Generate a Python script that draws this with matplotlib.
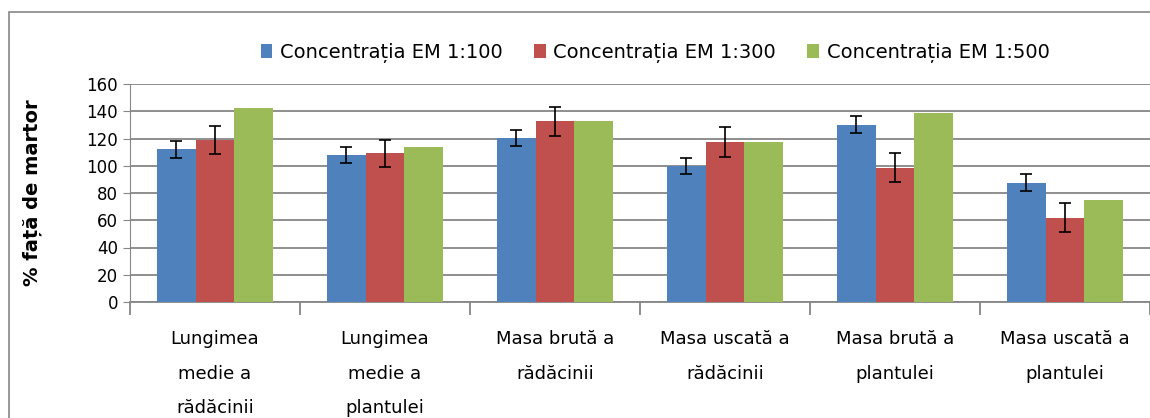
import matplotlib
import matplotlib.pyplot as plt
import numpy as np

matplotlib.use("Agg")

categories = ["Lungimea\nmedie a\nrădăcinii", "Lungimea\nmedie a\nplantulei",
              "Masa brută a\nrădăcinii", "Masa uscată a\nrădăcinii",
              "Masa brută a\nplantulei", "Masa uscată a\nplantulei"]
series_names = ["Concentrația EM 1:100", "Concentrația EM 1:300", "Concentrația EM 1:500"]
em100 = [112, 108, 120.5, 100, 130, 87.5]
em300 = [119, 109, 132.5, 117.5, 98.5, 62]
em500 = [142.5, 114, 132.5, 117.5, 138.5, 75]
err100 = [6.3, 6, 5.7, 6, 6.3, 6.2]
err300 = [10.5, 10, 10.5, 11, 10.6, 10.5]
colors = ["#4F81BD", "#C0504D", "#9BBB59"]

plt.rcParams["font.family"] = ["DejaVu Sans"]

fig = plt.figure(figsize=(11.5, 4.18), dpi=100)
# outer chart frame
fig.patches.append(plt.Rectangle((9 / 1150, -0.05), 1.2, 1 - 12 / 418 + 0.05,
                                 transform=fig.transFigure, fill=False,
                                 edgecolor="#868686", linewidth=1.2))

ax = fig.add_axes([130 / 1150, 1 - 302 / 418, 1 - 130 / 1150, (302 - 84) / 418])
x = np.arange(len(categories))
w = 0.227
values = [em100, em300, em500]
errs = [err100, err300, None]
for i in range(3):
    ax.bar(x + (i - 1) * w, values[i], w, color=colors[i], label=series_names[i], zorder=3)
    if errs[i] is not None:
        ax.errorbar(x + (i - 1) * w, values[i], yerr=errs[i], fmt="none",
                    ecolor="black", elinewidth=1.2, capsize=4, capthick=1.2, zorder=4)

ax.set_ylim(0, 160)
ax.set_yticks(range(0, 161, 20))
ax.set_xlim(-0.5, 5.48)
ax.grid(axis="y", color="#868686", linewidth=1.3, zorder=0)
for s in ["top", "right"]:
    ax.spines[s].set_visible(False)
ax.spines["left"].set_color("#868686")
ax.spines["bottom"].set_color("#868686")
ax.spines["bottom"].set_linewidth(1.3)
ax.tick_params(axis="y", colors="#868686", labelcolor="black", labelsize=12, length=5)
ax.set_xticks(np.arange(-0.5, 6, 1))
ax.set_xticklabels([])
ax.tick_params(axis="x", colors="#868686", length=9, width=1.3)
ax.set_xticks(x, minor=True)
ax.set_xticklabels(categories, minor=True, fontsize=13, linespacing=2.2)
ax.tick_params(axis="x", which="minor", length=0, pad=20)

ax.set_ylabel("% față de martor", fontsize=14, fontweight="bold", labelpad=32)

fig.legend(loc="center", bbox_to_anchor=(655 / 1150, 1 - 53 / 418), ncol=3,
           frameon=False, fontsize=14, handlelength=0.6, handleheight=0.7,
           handletextpad=0.4, columnspacing=1.6)

plt.savefig("out.png", dpi=100)
